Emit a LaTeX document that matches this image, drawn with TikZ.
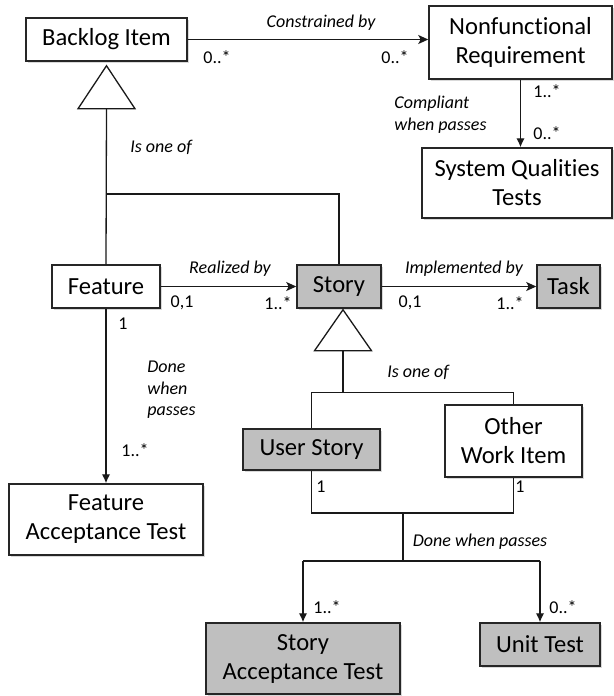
\documentclass[tikz,border=0pt]{standalone}
\usepackage{fontspec}
\setmainfont{Carlito}[Ligatures={NoCommon,NoDiscretionary,NoRare}]
\usetikzlibrary{arrows.meta,shadows,calc}
\definecolor{boxgray}{RGB}{191,191,191}
\begin{document}
\begin{tikzpicture}[x=0.5pt,y=-0.5pt,
  box/.style={draw=black!85, line width=0.75pt, fill=white, inner sep=0pt, align=center,
    font=\fontsize{12.3}{14.5}\selectfont,
    drop shadow={shadow xshift=0.9pt, shadow yshift=-0.9pt, opacity=0.3}},
  gbox/.style={box, fill=boxgray},
  wh/.style 2 args={minimum width=#1*0.5pt, minimum height=#2*0.5pt},
  line/.style={draw=black!90, line width=0.65pt},
  arr/.style={line, -{Stealth[length=5pt,width=4.5pt,inset=1.2pt]}},
  arrv/.style={line, -{Latex[length=4.5pt,width=4.2pt]}},
  lab/.style={font=\fontsize{9}{10.8}\selectfont\itshape, inner sep=0pt},
  mult/.style={font=\fontsize{9}{10.8}\selectfont, inner sep=0pt}]
\useasboundingbox (0,0) rectangle (614,696);
% boxes
\node[box, wh={161}{43}] (backlog) at (106.5,39.5) {Backlog Item};
\node[box, wh={183}{73}] (nfr) at (520.5,42.5) {Nonfunctional\\Requirement};
\node[box, wh={190}{70}] (sqt) at (517,183) {System Qualities\\Tests};
\node[box, wh={108}{43}] (feature) at (106,286.5) {Feature};
\node[gbox, wh={84}{43}] (story) at (339,286.5) {Story};
\node[gbox, wh={63}{43}] (task) at (568.5,286.5) {Task};
\node[gbox, wh={137}{41}] (ustory) at (311.5,449.5) {User Story};
\node[box, wh={137}{72}] (other) at (513.5,441) {Other\\Work Item};
\node[box, wh={194}{71}] (fat) at (106,519.5) {Feature\\Acceptance Test};
\node[gbox, wh={194}{71}] (sat) at (303,658.5) {Story\\Acceptance Test};
\node[gbox, wh={120}{43}] (unit) at (540,644.5) {Unit Test};
% helper coordinates
\coordinate (y194) at (0,194);
\coordinate (y513) at (0,513);
\coordinate (y561) at (0,561);
% top associations
\draw[arr] (backlog.east) -- (backlog.east -| nfr.west);
\draw[arrv] (nfr.south) -- (nfr.south |- sqt.north);
% generalization 1
\coordinate (t1) at ($(backlog.south)+(0,4)$);
\draw[line] (t1) -- ++(-28.5,43) -- ++(57,0) -- cycle;
\coordinate (b1) at ($(t1)+(0,43)$);
\draw[line] (b1) -- (feature.north);
\draw[line] (b1 |- y194) -- (story.north |- y194) -- (story.north);
% middle associations
\draw[arr] (feature.east) -- (feature.east -| story.west);
\draw[arr] (story.east) -- (story.east -| task.west);
\draw[arrv] (feature.south) -- (fat.north);
% generalization 2
\coordinate (t2) at ($(story.south)+(4,1)$);
\draw[line] (t2) -- ++(-28.5,41) -- ++(57,0) -- cycle;
\coordinate (b2) at ($(t2)+(0,41)$);
\coordinate (j2) at ($(b2)+(0,42)$);
\draw[line] (b2) -- (j2);
\draw[line] (ustory.north) -- (ustory.north |- j2) -- (other.north |- j2) -- (other.north);
% done when passes
\draw[line] (ustory.south) -- (ustory.south |- y513) -- (other.south |- y513) -- (other.south);
\coordinate (j3) at (403,513);
\coordinate (j4) at (403,561);
\draw[line] (j3) -- (j4);
\draw[line] (sat.north |- y561) -- (unit.north |- y561);
\draw[arrv] (sat.north |- y561) -- (sat.north);
\draw[arrv] (unit.north |- y561) -- (unit.north);
% labels
\node[lab] (l1) at (321,23) {Constrained by};
\node[mult] (m1) at (217,57) {0..*};
\node[mult] (m2) at (395,57) {0..*};
\node[mult] (m3) at (547,91) {1..*};
\node[mult] (m4) at (547,133) {0..*};
\node[lab, align=left, anchor=west] (l2) at (394,115) {Compliant\\when passes};
\node[lab] (l3) at (161,147) {Is one of};
\node[lab] (l4) at (230,269) {Realized by};
\node[mult] (m5) at (182,303) {0,1};
\node[mult] (m6) at (278,303) {1..*};
\node[lab] (l5) at (464,269) {Implemented by};
\node[mult] (m7) at (410,303) {0,1};
\node[mult] (m8) at (510,303) {1..*};
\node[mult] (m9) at (123,324) {1};
\node[lab, align=left, anchor=west] (l6) at (147,390) {Done\\when\\passes};
\node[mult] (m10) at (135,450) {1..*};
\node[lab] (l7) at (418,372) {Is one of};
\node[mult] (m11) at (321,487) {1};
\node[mult] (m12) at (520,487) {1};
\node[lab] (l8) at (480,542) {Done when passes};
\node[mult] (m13) at (327,607) {1..*};
\node[mult] (m14) at (563,607) {0..*};
\end{tikzpicture}
\end{document}
